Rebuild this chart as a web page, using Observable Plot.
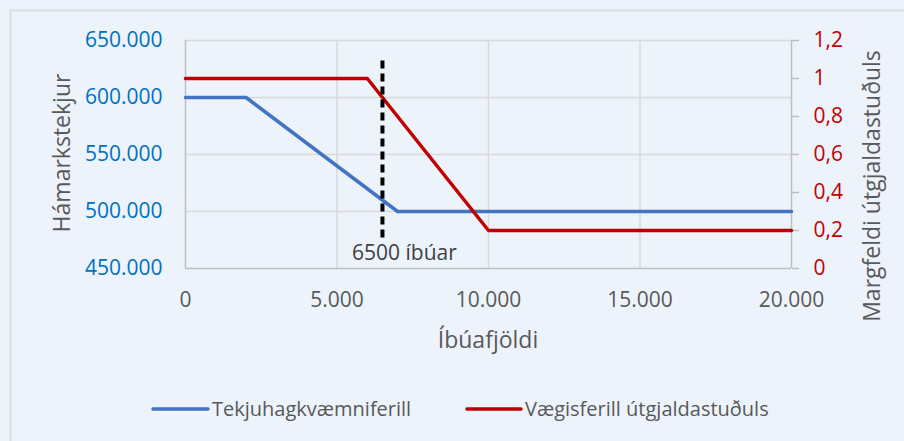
<!DOCTYPE html>
<html><head><meta charset="utf-8">
<script src="https://cdn.jsdelivr.net/npm/d3@7"></script>
<script src="https://cdn.jsdelivr.net/npm/@observablehq/plot@0.6"></script>
<style>
html,body{margin:0;padding:0;background:#ecf3fb;overflow:hidden;}
svg{display:block;}
</style></head><body><div id="chart"></div>
<script>
// ---- data ----
const popX = [0, 2000, 7000, 20000];
const revenue = [600000, 600000, 500000, 500000];
const weightX = [0, 6000, 10000, 20000];
const weight = [1, 1, 0.2, 0.2];
const xTicks = [0, 5000, 10000, 15000, 20000];
const leftTicks = [450000, 500000, 550000, 600000, 650000];
const rightTicks = [0, 0.2, 0.4, 0.6, 0.8, 1, 1.2];
const markerX = 6500;
const markerSpan = [632000, 473000];
const markerLabel = "6500 íbúar";
const seriesNames = ["Tekjuhagkvæmniferill", "Vægisferill útgjaldastuðuls"];
const seriesColors = ["#4472c4", "#c00000"];
const xTitle = "Íbúafjöldi";
const leftTitle = "Hámarkstekjur";
const rightTitle = "Margfeldi útgjaldastuðuls";

// ---- scales helpers ----
const yMin = 450000, yMax = 650000, rMax = 1.2;
const toLeft = v => yMin + v / rMax * (yMax - yMin);
const fromLeft = y => (y - yMin) / (yMax - yMin) * rMax;
const isLocale = d3.formatLocale({decimal: ",", thousands: ".", grouping: [3], currency: ["", " kr"]});
const fmtThousands = isLocale.format(",d");
const fmtDecBase = isLocale.format("~g");
const fmtDec = v => fmtDecBase(+v.toFixed(2));

const blue = popX.map((x, i) => ({x, y: revenue[i]}));
const red = weightX.map((x, i) => ({x, y: toLeft(weight[i])}));

const FONT = "'Open Sans', sans-serif";
const GRID = "#d9d9d9", AXIS = "#bfbfbf", TXT = "#595959";

const plot = Plot.plot({
  width: 904, height: 441,
  marginLeft: 185, marginRight: 113, marginTop: 40, marginBottom: 173,
  style: {background: "transparent", fontFamily: FONT, fontSize: "21px", overflow: "visible"},
  x: {domain: [0, 20000]},
  y: {domain: [yMin, yMax]},
  marks: [
    Plot.ruleX(xTicks.slice(1, -1), {stroke: GRID, strokeWidth: 1.5}),
    Plot.ruleY(leftTicks.slice(1), {stroke: GRID, strokeWidth: 1.5}),
    Plot.ruleX([xTicks[0], xTicks[xTicks.length - 1]], {stroke: AXIS, strokeWidth: 1.5}),
    Plot.ruleY([leftTicks[0]], {stroke: AXIS, strokeWidth: 1.5}),
    Plot.axisY(leftTicks, {anchor: "left", tickSize: 0, tickPadding: 23, tickFormat: fmtThousands,
      fill: "#0070c0", label: null, fontSize: 21}),
    Plot.axisY(rightTicks.map(toLeft), {anchor: "right", tickSize: 7, tickPadding: 15,
      tickFormat: d => fmtDec(fromLeft(d)), fill: "#c00000", stroke: AXIS, strokeWidth: 1.5, label: null, fontSize: 21}),
    Plot.axisX(xTicks, {anchor: "bottom", tickSize: 0, tickPadding: 24, tickFormat: fmtThousands,
      fill: TXT, label: null, fontSize: 21}),
    Plot.line(blue, {x: "x", y: "y", stroke: seriesColors[0], strokeWidth: 3.5}),
    Plot.line(red, {x: "x", y: "y", stroke: seriesColors[1], strokeWidth: 3.5}),
    Plot.ruleX([markerX], {y1: markerSpan[0], y2: markerSpan[1], stroke: "#000", strokeWidth: 4, strokeDasharray: "8,5"}),
    Plot.text([markerLabel], {x: markerX, y: 463400, dx: 22, text: d => d, fill: "#404040", fontSize: 21, textAnchor: "middle"})
  ]
});

const svg = d3.select(plot);
svg.insert("rect", ":first-child")
  .attr("x", 10.5).attr("y", 10.5).attr("width", 1000).attr("height", 1000)
  .attr("fill", "none").attr("stroke", GRID).attr("stroke-width", 1.5);

const g = svg.append("g").attr("font-family", FONT).attr("fill", TXT);
g.append("text").attr("transform", "translate(62,153) rotate(-90)")
  .attr("text-anchor", "middle").attr("dy", "0.35em").attr("font-size", 23).text(leftTitle);
g.append("text").attr("transform", "translate(872,186) rotate(-90)")
  .attr("text-anchor", "middle").attr("dy", "0.35em").attr("font-size", 23).text(rightTitle);
g.append("text").attr("x", 488).attr("y", 340)
  .attr("text-anchor", "middle").attr("dy", "0.35em").attr("font-size", 23).text(xTitle);

const legendPos = [{x1: 153, x2: 208, tx: 212}, {x1: 467, x2: 521, tx: 525}];
seriesNames.forEach((name, i) => {
  const p = legendPos[i];
  g.append("line").attr("x1", p.x1).attr("x2", p.x2).attr("y1", 409).attr("y2", 409)
    .attr("stroke", seriesColors[i]).attr("stroke-width", 3.5).attr("stroke-linecap", "round");
  g.append("text").attr("x", p.tx).attr("y", 409).attr("dy", "0.35em")
    .attr("text-anchor", "start").attr("font-size", 20).text(name);
});

document.getElementById("chart").appendChild(plot);
</script>
</body></html>
